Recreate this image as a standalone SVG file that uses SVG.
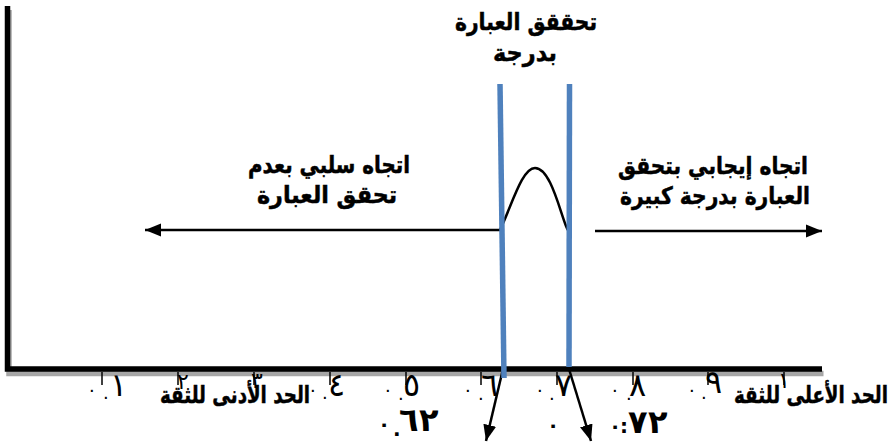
<svg xmlns="http://www.w3.org/2000/svg" width="892" height="442" viewBox="0 0 892 442">
<style>
.lbl{font-family:"DejaVu Sans","Liberation Sans",sans-serif;font-weight:bold;font-size:24px;fill:#000;stroke:#000;stroke-width:0.5}
.num{font-family:"DejaVu Sans",sans-serif;font-size:18px;fill:#000}
.num .d{font-size:32px}
.num2{font-family:"DejaVu Sans",sans-serif;font-size:20px;font-weight:bold;fill:#000}
.num2 .d{font-size:32px}
.small{font-family:"DejaVu Sans",sans-serif;font-size:22px;fill:#000}
.blue{stroke:#4F81BD;stroke-width:5.5;fill:none}
.arr{stroke:#000;stroke-width:2.5;fill:none}
.tick{stroke:#000;stroke-width:1.5}
</style>
<defs>
<marker id="ah" viewBox="0 0 10 10" refX="10" refY="5" markerWidth="6.5" markerHeight="6.5" orient="auto" markerUnits="strokeWidth">
<path d="M0,1 L10,5 L0,9 z" fill="#000"/>
</marker>
</defs>
<g id="axes">
<path d="M9,10 V373.5 H823.5" stroke="#a6a6a6" stroke-width="5.5" fill="none"/>
<path d="M7.5,6 V369 H822" stroke="#000" stroke-width="5.5" fill="none"/>
<g class="tick">
<line x1="102" y1="372" x2="102" y2="385"/>
<line x1="178" y1="372" x2="178" y2="385"/>
<line x1="254" y1="372" x2="254" y2="385"/>
<line x1="330" y1="372" x2="330" y2="385"/>
<line x1="406" y1="372" x2="406" y2="385"/>
<line x1="481" y1="372" x2="481" y2="385"/>
<line x1="557" y1="372" x2="557" y2="385"/>
<line x1="633" y1="372" x2="633" y2="385"/>
<line x1="708" y1="372" x2="708" y2="385"/>
<line x1="784" y1="372" x2="784" y2="385"/>
</g>
</g>
<g id="connectors">
<line class="arr" x1="500" y1="230" x2="145" y2="230" marker-end="url(#ah)"/>
<line class="arr" x1="595" y1="231" x2="822" y2="231" marker-end="url(#ah)"/>
<path class="arr" stroke-width="2" d="M500,230 C512,205 522,168 535,168 C550,168 559,208 566,226 Q569,234 570,229"/>
<line class="arr" x1="503" y1="369" x2="486" y2="441" marker-end="url(#ah)"/>
<line class="arr" x1="569" y1="369" x2="591" y2="441" marker-end="url(#ah)"/>
</g>
<g id="bounds">
<line class="blue" x1="500" y1="84" x2="504" y2="378"/>
<line class="blue" x1="569.5" y1="84" x2="569" y2="367"/>
</g>
<g id="title">
<text class="lbl" x="526" y="30" text-anchor="middle" textLength="142" lengthAdjust="spacingAndGlyphs">تحققق العبارة</text>
<text class="lbl" x="525" y="61" text-anchor="middle" textLength="64" lengthAdjust="spacingAndGlyphs">بدرجة</text>
</g>
<g id="negative">
<text class="lbl" x="329" y="173" text-anchor="middle" textLength="162" lengthAdjust="spacingAndGlyphs">اتجاه سلبي بعدم</text>
<text class="lbl" x="327" y="203" text-anchor="middle" textLength="140" lengthAdjust="spacingAndGlyphs">تحقق العبارة</text>
</g>
<g id="positive">
<text class="lbl" x="713" y="174" text-anchor="middle" textLength="190" lengthAdjust="spacingAndGlyphs">اتجاه إيجابي بتحقق</text>
<text class="lbl" x="715" y="204" text-anchor="middle" textLength="190" lengthAdjust="spacingAndGlyphs">العبارة بدرجة كبيرة</text>
</g>
<g id="scale">
<text class="small" x="177" y="389">٢</text>
<text class="small" x="251" y="388">٣</text>
<text class="small" x="778" y="388">١</text>
<text class="num" y="396"><tspan x="87">٠</tspan><tspan x="103" dy="3">.</tspan><tspan class="d" x="110" dy="-3">١</tspan></text>
<text class="num" y="396"><tspan x="308">٠</tspan><tspan x="322" dy="3">.</tspan><tspan class="d" x="328" dy="-3">٤</tspan></text>
<text class="num" y="396"><tspan x="383">٠</tspan><tspan x="398" dy="4">.</tspan><tspan class="d" x="403" dy="-4">٥</tspan></text>
<text class="num" y="396"><tspan x="463">٠</tspan><tspan x="478" dy="4">.</tspan><tspan class="d" x="481" dy="-4">٦</tspan></text>
<text class="num" y="396"><tspan x="535">٠</tspan><tspan x="549" dy="4">.</tspan><tspan class="d" x="555" dy="-4">٧</tspan></text>
<text class="num" y="396"><tspan x="610">٠</tspan><tspan x="626" dy="4">.</tspan><tspan class="d" x="629" dy="-4">٨</tspan></text>
<text class="num" y="396"><tspan x="687">٠</tspan><tspan x="701" dy="3">.</tspan><tspan class="d" x="705" dy="-6">٩</tspan></text>
<text class="num2" y="431"><tspan x="378">٠</tspan><tspan x="393" dy="5">.</tspan><tspan class="d" x="399" dy="-5">٦</tspan><tspan class="d" x="419">٢</tspan></text>
<text class="num2" x="547" y="432">٠</text>
<text class="num2" y="433"><tspan x="609">٠</tspan><tspan x="620">:</tspan><tspan class="d" x="628">٧</tspan><tspan class="d" x="648">٢</tspan></text>
</g>
<g id="limits">
<text class="lbl" x="235" y="403" text-anchor="middle" textLength="150" lengthAdjust="spacingAndGlyphs">الحد الأدنى للثقة</text>
<text class="lbl" x="811" y="403" text-anchor="middle" textLength="154" lengthAdjust="spacingAndGlyphs">الحد الأعلى للثقة</text>
</g>
</svg>
